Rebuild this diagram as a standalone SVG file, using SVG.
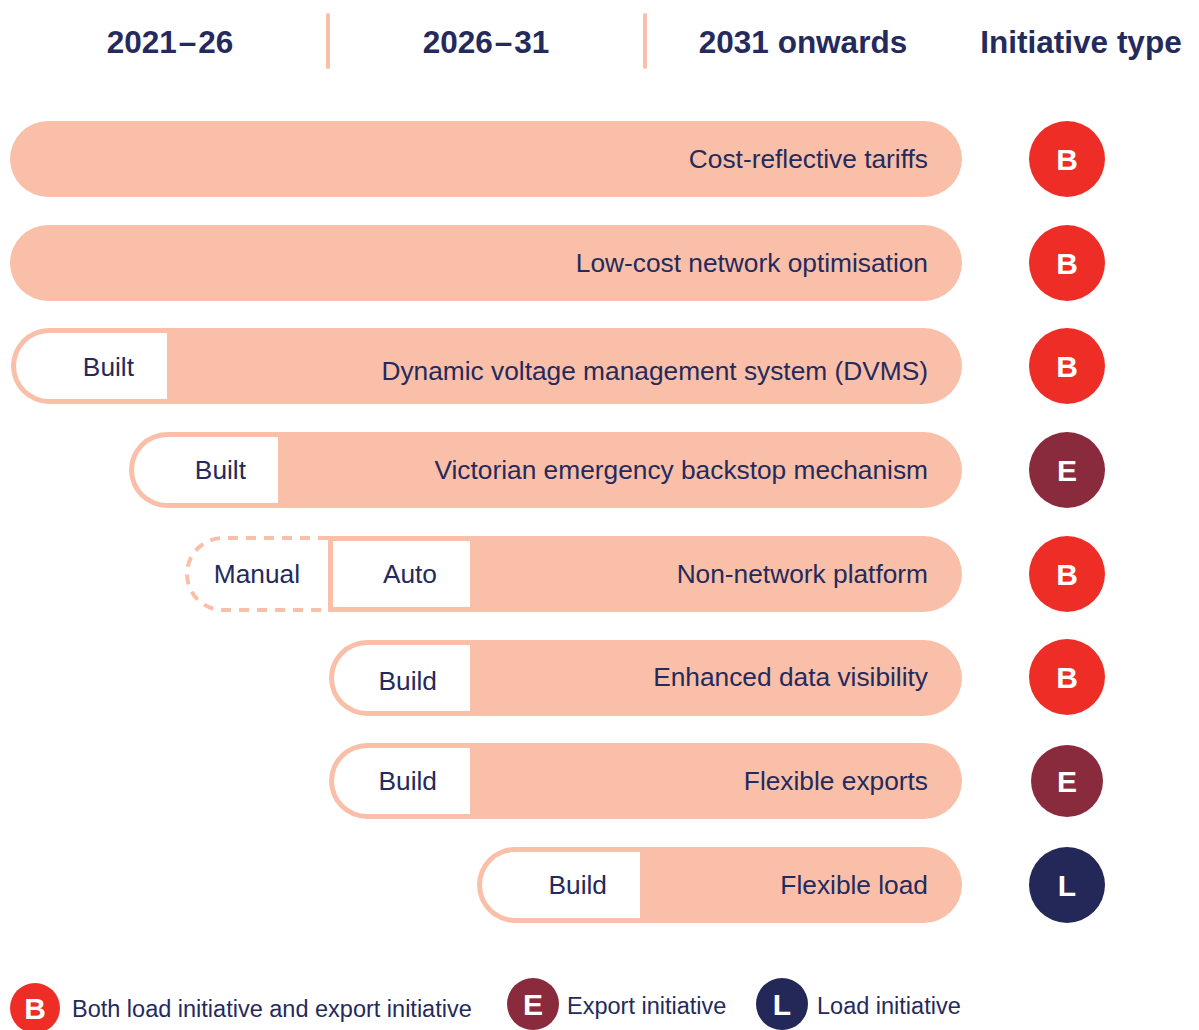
<svg xmlns="http://www.w3.org/2000/svg" width="1199" height="1030" viewBox="0 0 1199 1030">
  <defs>
    <style>
      .hdr { font-family: "Liberation Sans", Arial, sans-serif; font-weight: bold; font-size: 31.5px; fill: #252a5c; text-anchor: middle; }
      .lbl { font-family: "Liberation Sans", Arial, sans-serif; font-size: 26.3px; fill: #252a5c; text-anchor: end; }
      .leg { font-family: "Liberation Sans", Arial, sans-serif; font-size: 23.5px; fill: #252a5c; }
      .bar { fill: #f9bfa8; }
      .hole { fill: #ffffff; }
      .div { stroke: #f9bfa8; stroke-width: 4; stroke-linecap: round; }
      .dash { fill: none; stroke: #f9bfa8; stroke-width: 4; stroke-dasharray: 10 8; }
      .badge { font-family: "Liberation Sans", Arial, sans-serif; font-weight: bold; font-size: 30px; fill: #ffffff; text-anchor: middle; }
      .B { fill: #ee2e26; }
      .E { fill: #8a2a3d; }
      .L { fill: #232859; }
    </style>
  </defs>
  <rect width="1199" height="1030" fill="#ffffff"/>

  <!-- column headers -->
  <g id="header">
    <text class="hdr" x="170" y="53">2021<tspan dx="2">–</tspan><tspan dx="2">26</tspan></text>
    <text class="hdr" x="486" y="53">2026<tspan dx="2">–</tspan><tspan dx="2">31</tspan></text>
    <text class="hdr" x="803" y="53">2031 onwards</text>
    <text class="hdr" x="1081" y="53">Initiative type</text>
    <line class="div" x1="328" y1="15" x2="328" y2="67"/>
    <line class="div" x1="645" y1="15" x2="645" y2="67"/>
  </g>

  <!-- initiative rows -->
  <g id="row-tariffs">
    <rect class="bar" x="10" y="121" width="952" height="76" rx="38"/>
    <text class="lbl" x="928" y="168">Cost-reflective tariffs</text>
    <circle class="B" cx="1067" cy="159" r="38"/>
    <text class="badge" x="1067" y="170">B</text>
  </g>

  <g id="row-optimisation">
    <rect class="bar" x="10" y="225" width="952" height="76" rx="38"/>
    <text class="lbl" x="928" y="272">Low-cost network optimisation</text>
    <circle class="B" cx="1067" cy="263" r="38"/>
    <text class="badge" x="1067" y="274">B</text>
  </g>

  <g id="row-dvms">
    <rect class="bar" x="11" y="328" width="951" height="76" rx="38"/>
    <path class="hole" d="M167 333 H49 A33 33 0 0 0 49 399 H167 Z"/>
    <text class="lbl" x="134" y="376">Built</text>
    <text class="lbl" x="928" y="380">Dynamic voltage management system (DVMS)</text>
    <circle class="B" cx="1067" cy="366" r="38"/>
    <text class="badge" x="1067" y="377">B</text>
  </g>

  <g id="row-backstop">
    <rect class="bar" x="129" y="432" width="833" height="76" rx="38"/>
    <path class="hole" d="M278 437 H167 A33 33 0 0 0 167 503 H278 Z"/>
    <text class="lbl" x="246" y="479">Built</text>
    <text class="lbl" x="928" y="479">Victorian emergency backstop mechanism</text>
    <circle class="E" cx="1067" cy="470" r="38"/>
    <text class="badge" x="1067" y="481">E</text>
  </g>

  <g id="row-platform">
    <path class="dash" d="M328 538 H223 A36 36 0 0 0 223 610 H328"/>
    <path class="bar" d="M328 536 H924 A38 38 0 0 1 924 612 H328 Z"/>
    <rect class="hole" x="333" y="541" width="137" height="66"/>
    <text class="lbl" x="300" y="583">Manual</text>
    <text class="lbl" x="437" y="583">Auto</text>
    <text class="lbl" x="928" y="583">Non-network platform</text>
    <circle class="B" cx="1067" cy="574" r="38"/>
    <text class="badge" x="1067" y="585">B</text>
  </g>

  <g id="row-visibility">
    <rect class="bar" x="329" y="640" width="633" height="76" rx="38"/>
    <path class="hole" d="M470 645 H367 A33 33 0 0 0 367 711 H470 Z"/>
    <text class="lbl" x="437" y="690">Build</text>
    <text class="lbl" x="928" y="686">Enhanced data visibility</text>
    <circle class="B" cx="1067" cy="677" r="38"/>
    <text class="badge" x="1067" y="688">B</text>
  </g>

  <g id="row-exports">
    <rect class="bar" x="329" y="743" width="633" height="76" rx="38"/>
    <path class="hole" d="M470 748 H367 A33 33 0 0 0 367 814 H470 Z"/>
    <text class="lbl" x="437" y="790">Build</text>
    <text class="lbl" x="928" y="790">Flexible exports</text>
    <circle class="E" cx="1067" cy="781" r="36"/>
    <text class="badge" x="1067" y="792">E</text>
  </g>

  <g id="row-load">
    <rect class="bar" x="477" y="847" width="485" height="76" rx="38"/>
    <path class="hole" d="M640 852 H515 A33 33 0 0 0 515 918 H640 Z"/>
    <text class="lbl" x="607" y="894">Build</text>
    <text class="lbl" x="928" y="894">Flexible load</text>
    <circle class="L" cx="1067" cy="885" r="38"/>
    <text class="badge" x="1067" y="896">L</text>
  </g>

  <!-- legend -->
  <g id="legend">
    <circle class="B" cx="35" cy="1008" r="25"/>
    <text class="badge" x="35" y="1019" font-size="28">B</text>
    <text class="leg" x="72" y="1017">Both load initiative and export initiative</text>
    <circle class="E" cx="533" cy="1004" r="26"/>
    <text class="badge" x="533" y="1015" font-size="28">E</text>
    <text class="leg" x="567" y="1014">Export initiative</text>
    <circle class="L" cx="782" cy="1004" r="26"/>
    <text class="badge" x="782" y="1015" font-size="28">L</text>
    <text class="leg" x="817" y="1014">Load initiative</text>
  </g>
</svg>
